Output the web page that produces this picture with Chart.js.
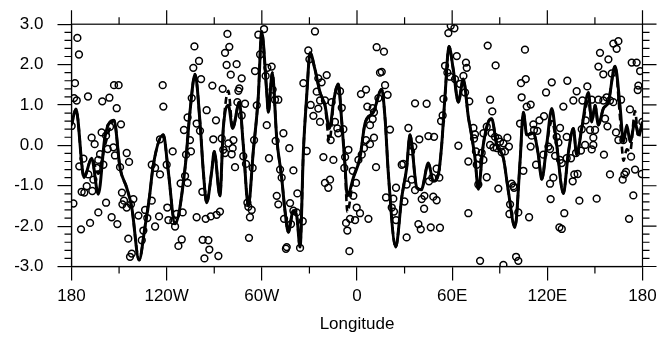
<!DOCTYPE html>
<html>
<head>
<meta charset="utf-8">
<script src="https://cdn.jsdelivr.net/npm/chart.js@4.4.0/dist/chart.umd.min.js"></script>
<style>
  html, body { margin: 0; padding: 0; background: #fff; }
  #wrap { width: 667px; height: 338px; }
</style>
</head>
<body>
<div id="wrap"><canvas id="chart" width="667" height="338"></canvas></div>
<script>
// axis ticks
const xTickVals = [-180, -120, -60, 0, 60, 120, 180];
const xTickLabels = ['180', '120W', '60W', '0', '60E', '120E', '180'];
const xMinorVals = [-150, -90, -30, 30, 90, 150];
const yTickVals = [-3, -2, -1, 0, 1, 2, 3];
const yTickLabels = ['-3.0', '-2.0', '-1.0', '0.0', '1.0', '2.0', '3.0'];
const yMinorVals = [-2.8, -2.6, -2.4, -2.2, -1.8, -1.6, -1.4, -1.2, -0.8, -0.6, -0.4, -0.2,
                    0.2, 0.4, 0.6, 0.8, 1.2, 1.4, 1.6, 1.8, 2.2, 2.4, 2.6, 2.8];

// smoothed curves (solid and dashed), sampled at lineLon
const lineLon = [-180, -177.2, -172.1, -167.3, -163.1, -158.9, -153.2, -149.4, -145.2, -142,
  -137.4, -133.7, -130.9, -128.4, -122.1, -119, -114.7, -108.4, -105.3, -102.1,
  -99, -96.9, -94.8, -91.6, -90, -86.4, -84.3, -81.1, -78.4, -74.2,
  -71.7, -68.5, -65.4, -62.2, -60.1, -56.9, -55.9, -53.4, -50.6, -47.5,
  -45.4, -43.3, -40.2, -38, -35.9, -33.8, -31.7, -29.6, -26.5, -23.3,
  -20.2, -17.4, -14.5, -11.8, -9.6, -7.6, -6.1, -2.3, 1.9, 5.1,
  10.3, 15.6, 17.7, 19.8, 24.4, 28.2, 31.3, 33.4, 37.7, 40.5,
  45, 48.1, 51.3, 53.4, 55.5, 58, 60.7, 63.9, 67, 70.2,
  72, 74.4, 76.5, 79.6, 82.8, 84.9, 88.1, 92.3, 95.4, 99.6,
  102.8, 104.9, 107, 111.2, 114.3, 116.5, 119.6, 122.8, 125.9, 130.1,
  133.2, 136.4, 138.5, 141.7, 145.9, 148, 150.1, 152.2, 155.3, 158.5,
  162.7, 165.8, 168, 170.1, 172.2, 175.3, 177.4, 180];
const solidVals = [0.5, 0.9, -0.8, -0.32, -1.21, 0.21, 0.62, -0.56, -1.05, -1.54,
  -2.84, -2.03, -1.29, -0.48, 0.26, -0.64, -1.94, -0.56, 0.83, 1.76,
  0.58, -0.64, -1.42, -0.64, -0.15, -1.25, 0.42, 0.99, 0.42, 1.07,
  0.01, -1.5, -0.15, 1.23, 2.82, 1.31, 0.82, 1.8, 0.17, -0.8,
  -1.62, -2.15, -1.62, -1.75, -2.52, -0.15, 1.23, 2.29, 1.88, 1.31,
  0.99, 0.42, 1.15, 1.52, 0.58, -0.48, -1.25, -0.8, -0.3, 0.55,
  0.82, 1.39, 0.66, -0.72, -2.52, -1.29, -0.56, 0.26, -1.05, -1.1,
  -0.44, -0.89, -0.72, 0.01, 1.23, 2.45, 1.88, 1.07, 1.64, 0.7,
  0.3, -0.32, -1.09, 0.01, 0.58, 0.66, 0.01, -0.32, -1.13, -2.03,
  -0.4, 0.82, 0.26, 0.3, -0.23, -0.84, 0.01, 0.91, 0.01, -1.19,
  -0.2, 0.42, -0.23, 0.42, 1.31, 0.58, 0.99, 0.5, 0.91, 1.07,
  1.96, 0.99, 0.09, 0.5, 0.09, 0.58, 0.26, 0.58];
const dashedVals = [0.5, 0.9, -0.8, -0.32, -0.7, 0.0, 0.62, -0.56, -1.05, -1.54,
  -2.84, -2.03, -1.29, -0.48, 0.26, -0.64, -1.94, -0.56, 0.83, 1.76,
  0.58, -0.64, -1.42, -0.64, -0.15, -1.25, 0.42, 1.35, 0.42, 1.07,
  0.01, -1.5, -0.15, 1.23, 2.82, 1.31, 0.82, 1.8, 0.17, -0.8,
  -1.62, -2.15, -1.62, -1.75, -2.52, -0.15, 1.23, 2.29, 1.88, 1.31,
  0.99, 0.1, 1.15, 1.52, 0.58, -0.48, -1.65, -0.8, -0.3, 0.55,
  0.82, 1.39, 0.66, -0.72, -2.52, -1.29, -0.56, 0.26, -1.05, -1.1,
  -0.44, -0.89, -0.72, 0.01, 1.23, 2.45, 1.88, 1.07, 1.64, 0.7,
  0.3, -0.32, -1.09, 0.01, 0.58, 0.66, 0.01, -0.32, -1.13, -2.03,
  -0.4, 0.82, 0.26, 0.3, -0.23, -0.84, 0.01, 0.6, 0.01, -1.19,
  -0.2, 0.42, -0.23, 0.42, 1.1, 0.58, 0.99, 0.5, 0.91, 1.07,
  1.96, 0.7, -0.38, -0.1, -0.15, 0.85, 0.2, 0.58];

// raw values drawn as hollow circles: [longitude, value]
const circles = [
  [-176.3, 2.66], [-175.3, 2.25], [-177.8, 1.54], [-178.4, 1.17], [-176.7, 1.11], [-169.6, 1.21], [-179.9, 0.48],
  [-153.2, 1.49], [-150.3, 1.49], [-160.6, 1.09], [-156.1, 1.18], [-151.5, 0.92], [-148.8, 0.52], [-167.3, 0.19],
  [-165.4, 0.03], [-161.0, 0.32], [-158.2, 0.24], [-155.7, 0.46], [-172.5, -0.33], [-175.1, -0.52], [-162.0, -0.22],
  [-163.1, -0.36], [-157.2, -0.09], [-153.6, -0.05], [-152.6, -0.25], [-145.2, -0.19], [-143.7, -0.41], [-149.4, -0.54],
  [-159.9, -0.48], [-164.1, -0.56], [-169.4, -0.72], [-166.2, -0.85], [-170.4, -1.01], [-166.9, -1.13], [-173.6, -1.15],
  [-171.9, -1.17], [-178.8, -1.44], [-158.2, -1.42], [-163.1, -1.66], [-154.7, -1.78], [-151.1, -1.95], [-168.3, -1.92],
  [-174.0, -2.08], [-148.2, -1.17], [-146.9, -1.37], [-147.9, -1.46], [-145.2, -1.54], [-141.0, -1.33], [-142.5, -1.46],
  [-137.8, -1.74], [-133.6, -1.60], [-132.2, -1.80], [-134.7, -2.11], [-135.7, -2.35], [-144.2, -2.31], [-142.0, -2.68],
  [-143.1, -2.76], [-129.4, -1.37], [-124.8, -1.76], [-127.3, -2.01], [-119.6, -1.54], [-118.9, -1.85], [-124.2, 0.15],
  [-122.5, 1.49], [-122.1, 0.96], [-129.4, -0.48], [-127.3, -0.56], [-124.2, -0.72], [-120.0, -0.48],
  [-116.2, -0.15], [-111.2, -0.94], [-106.8, -0.93], [-108.4, -0.76], [-109.1, 0.38], [-106.8, 0.69], [-105.3, 0.13],
  [-107.8, -0.23], [-104.7, -0.15], [-104.2, 1.17], [-103.2, 1.92], [-102.5, 2.45], [-99.6, 2.09], [-98.3, 1.64],
  [-101.1, 0.54], [-99.0, 0.36], [-97.5, -1.15], [-101.1, -1.78], [-95.4, -1.82], [-92.2, -1.76], [-88.5, -1.72],
  [-86.4, -1.64], [-97.3, -2.34], [-93.7, -2.35], [-93.1, -2.58], [-96.2, -2.80], [-87.4, -2.74], [-94.8, 0.87],
  [-91.2, 1.48], [-88.9, 0.62], [-90.6, 0.15], [-85.3, 0.17], [-84.7, 1.40], [-81.7, 2.76], [-80.5, 2.44],
  [-83.2, 2.29], [-82.2, 1.99], [-79.6, 1.75], [-75.9, 2.01], [-72.7, 1.66], [-74.2, 1.41], [-74.8, 1.35],
  [-75.4, 1.07], [-70.6, 1.03], [-72.7, 0.74], [-83.2, -0.19], [-84.3, -0.11], [-81.1, 0.05], [-77.9, 0.13],
  [-78.4, -0.07], [-79.0, -0.22], [-76.9, -0.54], [-71.7, -0.27], [-70.0, -0.46], [-65.8, -0.56], [-64.9, 0.13],
  [-63.2, 0.99], [-64.3, 1.84], [-62.2, 2.74], [-61.1, 2.25], [-57.6, 1.72], [-56.5, 1.92], [-56.9, 0.5],
  [-55.5, -0.32], [-69.1, -1.42], [-68.5, -1.52], [-66.4, -1.60], [-67.5, -1.78], [-68.1, -2.29], [-110.5, -2.33],
  [-112.6, -2.49], [-113.7, -1.70], [-109.9, -1.66], [-114.7, -2.01], [-115.8, -1.87],
  [-58.6, 2.88], [-26.5, 2.82], [-30.7, 2.35], [-30.0, 2.13], [-33.8, 1.54], [-24.4, 1.66], [-19.1, 1.74],
  [-22.3, 1.56], [-25.4, 1.33], [-23.3, 1.11], [-20.2, 1.11], [-16.0, 1.07], [-29.2, 1.00], [-27.5, 0.73],
  [-24.4, 0.91], [-23.3, 0.58], [-13.9, 0.58], [-10.7, 1.34], [-9.6, 0.93], [-12.4, 0.42], [-11.8, 0.30],
  [-8.6, 0.40], [-16.6, 0.13], [-53.8, 1.95], [-53.2, 1.38], [-49.6, 1.13], [-51.7, 1.13], [-46.4, 0.30],
  [-51.3, 0.11], [-42.7, -0.07], [-48.5, -0.60], [-47.5, -0.80], [-40.1, -0.62], [-21.2, -0.29], [-14.9, -0.36],
  [-20.2, -0.93], [-17.0, -0.85], [-18.1, -1.05], [-37.6, -1.19], [-50.6, -1.25], [-49.6, -1.46], [-42.2, -1.43],
  [-40.1, -1.62], [-38.0, -1.66], [-46.0, -1.82], [-41.6, -1.95], [-34.2, -1.88], [-44.3, -2.52], [-44.8, -2.56],
  [-35.9, -2.54], [-4.8, -2.62], [-6.1, -2.11], [-6.9, -1.92], [-4.4, -1.82], [-1.2, -1.85], [-0.2, -1.54],
  [1.9, -1.68], [7.2, -1.82], [-2.3, -1.25], [-0.6, -0.93], [-2.7, -0.63], [0.9, -0.36], [3.0, -0.23],
  [4.4, -0.07], [5.7, 0.13], [6.5, 0.96], [5.7, 1.38], [2.5, 1.27], [-5.4, -0.11], [-7.5, -0.29],
  [-8.0, -0.56], [-31.7, -0.14],
  [12.4, 2.43], [17.0, 2.32], [14.5, 1.80], [15.6, 1.82], [17.7, 1.49], [19.3, 1.25], [9.9, 0.92],
  [13.5, 1.17], [10.7, 0.82], [9.9, 0.65], [8.2, 0.50], [10.7, 0.19], [8.2, 0.03], [12.0, -0.54],
  [20.8, 0.39], [32.4, 0.43], [36.6, 1.04], [43.9, 1.03], [39.3, 0.15], [45.0, 0.23], [48.6, 0.21],
  [35.5, -0.03], [34.1, -0.15], [63.9, -0.01], [70.2, -0.40], [28.2, -0.48], [29.2, -0.46], [24.6, -1.05],
  [18.3, -1.29], [22.9, -1.32], [21.9, -1.54], [23.3, -1.64], [24.6, -1.85], [29.9, -1.39], [31.3, -0.97],
  [34.5, -0.85], [36.6, -1.11], [40.8, -1.33], [42.5, -1.25], [48.1, -1.27], [50.2, -1.36], [45.4, -0.89],
  [50.2, -0.58], [47.5, -0.80], [42.3, -1.57], [38.7, -1.95], [40.2, -2.08], [46.5, -2.03], [52.3, -2.04],
  [31.3, -2.28], [57.6, 2.78], [59.1, 2.96], [61.4, 2.90], [62.9, 2.21], [68.7, 2.05], [69.2, 1.92],
  [67.1, 1.72], [65.0, 1.52], [55.5, 1.97], [57.0, 1.80], [58.7, 1.70], [61.8, 1.64], [68.1, 1.31],
  [54.5, 1.15], [54.0, 0.74], [53.0, 0.60], [70.2, -1.68], [70.8, 1.09], [51.9, -0.80],
  [82.4, 2.47], [105.9, 2.37], [87.4, 1.98], [83.9, 1.13], [85.3, 0.84], [103.4, 1.54], [106.4, 1.64],
  [122.8, 1.56], [132.6, 1.60], [119.2, 1.31], [103.8, 1.19], [107.0, 0.96], [109.5, 1.01], [130.1, 0.96],
  [102.8, 0.54], [111.2, 0.52], [115.0, 0.62], [117.9, 0.72], [113.7, 0.36], [111.6, 0.38], [110.1, 0.24],
  [109.5, -0.03], [128.0, 0.43], [132.2, 0.21], [125.9, 0.21], [127.0, 0.07], [120.7, -0.03], [117.5, -0.23],
  [121.7, -0.09], [124.9, -0.26], [128.0, -0.36], [129.1, -0.44], [132.2, -0.32], [79.7, 0.30], [81.8, 0.46],
  [84.9, 0.30], [87.0, 0.21], [89.1, 0.17], [90.2, 0.09], [94.8, 0.19], [95.8, -0.03], [92.3, 0.05],
  [88.1, -0.07], [91.2, -0.17], [93.3, -0.15], [86.0, -0.05], [83.9, 0.01], [73.4, 0.43], [74.4, 0.27],
  [73.8, 0.17], [75.0, -0.15], [76.5, -0.32], [78.6, -0.19], [79.7, -0.36], [75.5, -0.48], [81.8, -0.79],
  [89.1, -1.07], [76.5, -0.97], [97.5, -0.95], [98.6, -1.01], [99.0, -1.05], [96.5, -1.46], [96.1, -1.70],
  [101.7, -1.66], [108.5, -1.78], [104.9, -0.63], [112.9, -0.48], [121.7, -0.95], [123.8, -0.80], [122.1, -1.33],
  [130.7, -1.68], [127.6, -2.03], [129.1, -2.07], [77.6, -2.86], [92.3, -2.96], [100.3, -2.76], [101.7, -2.86],
  [161.6, 2.52], [164.8, 2.58], [163.7, 2.39], [153.2, 2.29], [158.5, 2.13], [152.2, 1.95], [155.3, 1.76],
  [160.6, 1.78], [173.2, 2.05], [176.3, 2.05], [178.5, 1.84], [177.4, 1.48], [177.0, 1.37], [172.1, 0.89],
  [138.5, 1.34], [136.4, 1.11], [142.1, 1.11], [145.2, 1.46], [148.0, 1.13], [152.2, 1.13], [155.3, 1.11],
  [157.4, 1.19], [159.5, 1.11], [161.6, 1.07], [166.5, 1.13], [156.4, 0.66], [157.9, 0.47], [141.7, 0.40],
  [144.2, 0.62], [146.9, 0.38], [150.1, 0.38], [149.0, 0.19], [143.8, 0.01], [149.0, 0.01], [148.0, -0.10],
  [155.7, -0.23], [163.3, 0.32], [164.8, 0.13], [167.9, 0.13], [179.9, 0.58], [141.2, -0.13], [138.1, -0.19],
  [134.9, -0.32], [175.3, -0.60], [179.5, -0.71], [169.6, -0.66], [168.6, -0.72], [167.5, -0.85], [159.5, -0.72],
  [151.1, -1.32], [140.2, -1.37], [136.0, -0.89], [137.0, -0.72], [139.1, -0.71], [174.2, -1.24], [171.5, -1.82],
  [172.8, -0.28]
];

const MAJOR_LEN = 14;
const MINOR_LEN = 7;

// frame + outward tick marks on all four sides (bottom/left majors come from chart.js)
const frameTicks = {
  id: 'frameTicks',
  afterDatasetsDraw(chart) {
    const { ctx, chartArea: a, scales: { x, y } } = chart;
    ctx.save();
    ctx.strokeStyle = '#000';
    ctx.lineWidth = 1.2;
    ctx.strokeRect(a.left, a.top, a.right - a.left, a.bottom - a.top);
    ctx.beginPath();
    xTickVals.forEach(v => {
      const px = x.getPixelForValue(v);
      ctx.moveTo(px, a.top); ctx.lineTo(px, a.top - MAJOR_LEN);
    });
    xMinorVals.forEach(v => {
      const px = x.getPixelForValue(v);
      ctx.moveTo(px, a.top); ctx.lineTo(px, a.top - MINOR_LEN);
      ctx.moveTo(px, a.bottom); ctx.lineTo(px, a.bottom + MINOR_LEN);
    });
    yTickVals.forEach(v => {
      const py = y.getPixelForValue(v);
      ctx.moveTo(a.right, py); ctx.lineTo(a.right + MAJOR_LEN, py);
    });
    yMinorVals.forEach(v => {
      const py = y.getPixelForValue(v);
      ctx.moveTo(a.left, py); ctx.lineTo(a.left - MINOR_LEN, py);
      ctx.moveTo(a.right, py); ctx.lineTo(a.right + MINOR_LEN, py);
    });
    ctx.stroke();
    ctx.restore();
  }
};

Chart.defaults.font.family = '"Liberation Sans", Arial, Helvetica, sans-serif';
Chart.defaults.font.size = 17;
Chart.defaults.color = '#000';

new Chart(document.getElementById('chart'), {
  type: 'scatter',
  data: {
    datasets: [
      {
        data: circles.map(([lon, v]) => ({ x: lon, y: v })),
        pointStyle: 'circle',
        pointRadius: 3.4,
        pointBorderWidth: 1.5,
        pointBorderColor: '#000',
        pointBackgroundColor: 'rgba(0,0,0,0)'
      },
      {
        data: lineLon.map((lon, i) => ({ x: lon, y: solidVals[i] })),
        showLine: true,
        pointRadius: 0,
        borderColor: '#000',
        borderWidth: 3,
        cubicInterpolationMode: 'monotone'
      },
      {
        data: lineLon.map((lon, i) => ({ x: lon, y: dashedVals[i] })),
        showLine: true,
        pointRadius: 0,
        borderColor: '#000',
        borderWidth: 2.6,
        borderDash: [7, 4],
        cubicInterpolationMode: 'monotone'
      }
    ]
  },
  options: {
    responsive: false,
    animation: false,
    devicePixelRatio: 1,
    layout: { padding: { top: 21, right: 24.5, left: 0, bottom: 0 } },
    plugins: { legend: { display: false }, tooltip: { enabled: false } },
    events: [],
    scales: {
      x: {
        type: 'linear',
        min: -180,
        max: 180,
        afterBuildTicks: s => { s.ticks = xTickVals.map(v => ({ value: v })); },
        afterFit: s => { s.height = 71.5; },
        ticks: {
          autoSkip: false,
          maxRotation: 0,
          padding: 6,
          callback: v => xTickLabels[xTickVals.indexOf(v)]
        },
        grid: { drawOnChartArea: false, tickLength: MAJOR_LEN, color: '#000', lineWidth: 1.2 },
        border: { color: '#000', width: 1.2 },
        title: { display: true, text: 'Longitude', font: { size: 17 }, padding: { top: 0, bottom: 3 } }
      },
      y: {
        min: -3,
        max: 3,
        afterBuildTicks: s => { s.ticks = yTickVals.map(v => ({ value: v })); },
        afterFit: s => { s.width = 71.5; },
        ticks: {
          padding: 14,
          callback: v => yTickLabels[yTickVals.indexOf(v)]
        },
        grid: { drawOnChartArea: false, tickLength: MAJOR_LEN, color: '#000', lineWidth: 1.2 },
        border: { color: '#000', width: 1.2 }
      }
    }
  },
  plugins: [frameTicks]
});
</script>
</body>
</html>
